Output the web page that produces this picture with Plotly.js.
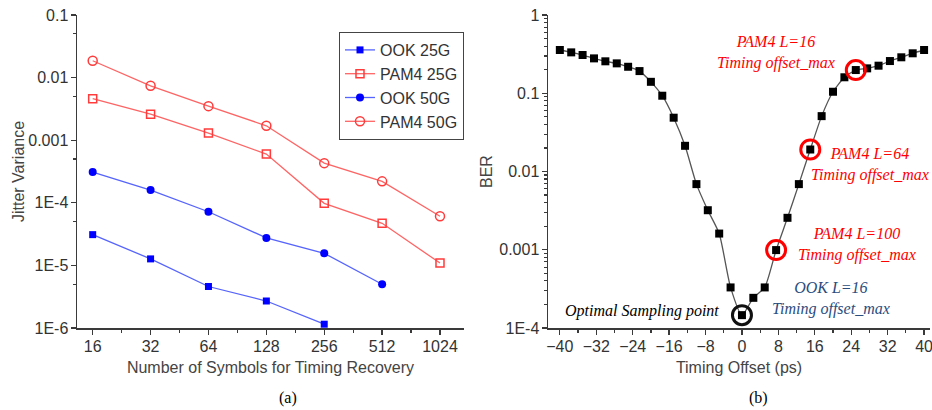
<!DOCTYPE html>
<html>
<head>
<meta charset="utf-8">
<script src="https://cdn.plot.ly/plotly-3.0.1.min.js"></script>
<style>
html,body{margin:0;padding:0;background:#fff;}
#chart{width:932px;height:410px;}
</style>
</head>
<body>
<div id="chart"></div>
<script>
// ---- Data: panel (a) ----
const symbols = [16, 32, 64, 128, 256, 512, 1024];
const symbolTickText = ['16', '32', '64', '128', '256', '512', '1024'];
const ook25 = [3.1e-5, 1.27e-5, 4.6e-6, 2.7e-6, 1.15e-6];
const pam4_25 = [4.6e-3, 2.6e-3, 1.3e-3, 6.0e-4, 9.8e-5, 4.7e-5, 1.09e-5];
const ook50 = [3.1e-4, 1.6e-4, 7.2e-5, 2.75e-5, 1.56e-5, 5.0e-6];
const pam4_50 = [1.86e-2, 7.4e-3, 3.5e-3, 1.7e-3, 4.3e-4, 2.2e-4, 6.1e-5];
const seriesNames = ['OOK 25G', 'PAM4 25G', 'OOK 50G', 'PAM4 50G'];
const jitterTickVals = [1e-6, 1e-5, 1e-4, 1e-3, 1e-2, 1e-1];
const jitterTickText = ['1E-6', '1E-5', '1E-4', '0.001', '0.01', '0.1'];

// ---- Data: panel (b) ----
const offsets = [-40, -37.5, -35, -32.5, -30, -27.5, -25, -22.5, -20, -17.5, -15, -12.5, -10, -7.5, -5, -2.5,
                 0, 2.5, 5, 7.5, 10, 12.5, 15, 17.5, 20, 22.5, 25, 27.5, 30, 32.5, 35, 37.5, 40];
const ber = [0.357, 0.333, 0.308, 0.279, 0.256, 0.241, 0.218, 0.192, 0.140, 0.093, 0.0487, 0.0213, 0.0069, 0.0032, 0.00161, 3.3e-4,
             1.46e-4, 2.43e-4, 3.3e-4, 9.9e-4, 2.56e-3, 6.9e-3, 0.0191, 0.051, 0.1045, 0.160, 0.198, 0.208, 0.225, 0.258, 0.288, 0.324, 0.357];
const berTickVals = [1e-4, 1e-3, 1e-2, 1e-1, 1];
const berTickText = ['1E-4', '0.001', '0.01', '0.1', '1'];
const offsetTicks = [-40, -32, -24, -16, -8, 0, 8, 16, 24, 32, 40];
const pam4Marked = [25, 15, 7.5];   // PAM4 L=16, L=64, L=100 timing offset max
const optimalPoint = [0];

// ---- derived ----
const symMinor = symbols.slice(0, -1).map((v, i) => Math.sqrt(v * symbols[i + 1]));
const jitMinor = [5e-6, 5e-5, 5e-4, 5e-3, 5e-2];
const berMinor = [];
for (let e = -4; e < 0; e++) for (let m = 2; m <= 9; m++) berMinor.push(m * Math.pow(10, e));
const offMinor = offsetTicks.slice(0, -1).map((v, i) => (v + offsetTicks[i + 1]) / 2);
const berAt = x => ber[offsets.indexOf(x)];

const SANS = 'Liberation Sans, Arial, sans-serif';
const SERIF = 'Liberation Serif, Times New Roman, serif';
const AX = '#3a3a3a';
const TXT = '#333333';
const BLUE = '#0000ff', BLUE_L = '#5563ff', RED = '#ff3b3b', RED_L = '#ff6464';

const traces = [
  {x: symbols.slice(0, ook25.length), y: ook25, name: seriesNames[0], mode: 'lines+markers', xaxis: 'x', yaxis: 'y',
   line: {color: BLUE_L, width: 1.3}, marker: {symbol: 'square', size: 7, color: BLUE}},
  {x: symbols.slice(0, pam4_25.length), y: pam4_25, name: seriesNames[1], mode: 'lines+markers', xaxis: 'x', yaxis: 'y',
   line: {color: RED_L, width: 1.3}, marker: {symbol: 'square-open', size: 8, color: RED, line: {width: 1.5}}},
  {x: symbols.slice(0, ook50.length), y: ook50, name: seriesNames[2], mode: 'lines+markers', xaxis: 'x', yaxis: 'y',
   line: {color: BLUE_L, width: 1.3}, marker: {symbol: 'circle', size: 8, color: BLUE}},
  {x: symbols.slice(0, pam4_50.length), y: pam4_50, name: seriesNames[3], mode: 'lines+markers', xaxis: 'x', yaxis: 'y',
   line: {color: RED_L, width: 1.3}, marker: {symbol: 'circle-open', size: 9, color: RED, line: {width: 1.5}}},
  {x: offsets, y: ber, name: 'BER', mode: 'lines+markers', xaxis: 'x2', yaxis: 'y2', showlegend: false,
   line: {color: '#555', width: 1.3, shape: 'spline', smoothing: 0.6}, marker: {symbol: 'square', size: 8, color: '#000'}},
  {x: pam4Marked, y: pam4Marked.map(berAt), mode: 'markers', xaxis: 'x2', yaxis: 'y2', showlegend: false, hoverinfo: 'skip',
   cliponaxis: false, marker: {symbol: 'circle-open', size: 19, color: '#ff0000', line: {width: 3}}},
  {x: optimalPoint, y: optimalPoint.map(berAt), mode: 'markers', xaxis: 'x2', yaxis: 'y2', showlegend: false, hoverinfo: 'skip',
   cliponaxis: false, marker: {symbol: 'circle-open', size: 19, color: '#111', line: {width: 3}}}
];

const W = 932, H = 410;
const px = v => v / W, py = v => 1 - v / H;
const dA = [px(77), px(464)], dB = [px(548), px(930)], dY = [py(328), py(15)];
const xRangeA = [Math.log10(16) - 0.0816, Math.log10(1024) + 0.1248];
const yRangeA = [-6, -1];
const xRangeB = [-42.6, 41.3];
const yRangeB = [-4, 0];

const tickFont = {family: SANS, size: 16, color: TXT};
const titleFont = {family: SANS, size: 16, color: '#444'};
const base = {showline: true, linecolor: AX, linewidth: 1.5, showgrid: false, zeroline: false,
              ticks: 'outside', ticklen: 5, tickwidth: 1.3, tickcolor: AX, tickfont: tickFont, ticklabeloverflow: 'allow'};
const mirror = {showline: true, linecolor: AX, linewidth: 1.5, showgrid: false, zeroline: false,
                ticks: 'inside', ticklen: 5, tickwidth: 1.3, tickcolor: AX, showticklabels: false};
const note = (x, y, text, color) => ({xref: 'paper', yref: 'paper', x: px(x), y: py(y), xanchor: 'center', yanchor: 'middle',
  text: text, showarrow: false, align: 'center', font: {family: SERIF, size: 16, color: color}});
const ytitle = (x, y, text) => ({xref: 'paper', yref: 'paper', x: px(x), y: py(y), xanchor: 'center', yanchor: 'middle',
  text: text, textangle: -90, showarrow: false, font: titleFont});

const layout = {
  width: W, height: H, margin: {l: 0, r: 0, t: 0, b: 0},
  paper_bgcolor: '#fff', plot_bgcolor: '#fff', showlegend: true,
  font: {family: SANS, color: TXT},
  legend: {x: px(464), xanchor: 'right', y: py(32), yanchor: 'top', bgcolor: '#fff',
           bordercolor: '#444', borderwidth: 1, font: {family: SANS, size: 16, color: '#333'},
           tracegroupgap: 0, itemwidth: 30},
  xaxis: Object.assign({}, base, {domain: dA, anchor: 'y', type: 'log', range: xRangeA,
           tickmode: 'array', tickvals: symbols, ticktext: symbolTickText, ticklabelstandoff: -2,
           minor: {tickmode: 'array', tickvals: symMinor, ticks: 'outside', ticklen: 3, tickcolor: AX, tickwidth: 1.2},
           title: {text: 'Number of Symbols for Timing Recovery', font: titleFont, standoff: 8}}),
  yaxis: Object.assign({}, base, {domain: dY, anchor: 'x', type: 'log', range: yRangeA,
           tickmode: 'array', tickvals: jitterTickVals, ticktext: jitterTickText, ticklabelstandoff: -1,
           minor: {tickmode: 'array', tickvals: jitMinor, ticks: 'outside', ticklen: 3, tickcolor: AX, tickwidth: 1.2}}),
  xaxis3: Object.assign({}, mirror, {overlaying: 'x', anchor: 'y', side: 'top', type: 'log', range: xRangeA,
           tickmode: 'array', tickvals: symbols,
           minor: {tickmode: 'array', tickvals: symMinor, ticks: 'inside', ticklen: 3, tickcolor: AX, tickwidth: 1.2}}),
  yaxis3: Object.assign({}, mirror, {overlaying: 'y', anchor: 'x', side: 'right', type: 'log', range: yRangeA,
           tickmode: 'array', tickvals: jitterTickVals,
           minor: {tickmode: 'array', tickvals: jitMinor, ticks: 'inside', ticklen: 3, tickcolor: AX, tickwidth: 1.2}}),
  xaxis2: Object.assign({}, base, {domain: dB, anchor: 'y2', range: xRangeB,
           tickmode: 'array', tickvals: offsetTicks, ticklabelstandoff: -2,
           minor: {tickmode: 'array', tickvals: offMinor, ticks: 'outside', ticklen: 3, tickcolor: AX, tickwidth: 1.2},
           title: {text: 'Timing Offset (ps)', font: titleFont, standoff: 8}}),
  yaxis2: Object.assign({}, base, {domain: dY, anchor: 'x2', type: 'log', range: yRangeB,
           tickmode: 'array', tickvals: berTickVals, ticktext: berTickText, ticklabelstandoff: -1,
           minor: {tickmode: 'array', tickvals: berMinor, ticks: 'outside', ticklen: 3, tickcolor: AX, tickwidth: 1.2}}),
  xaxis4: Object.assign({}, mirror, {overlaying: 'x2', anchor: 'y2', side: 'top', range: xRangeB,
           tickmode: 'array', tickvals: offsetTicks,
           minor: {tickmode: 'array', tickvals: offMinor, ticks: 'inside', ticklen: 3, tickcolor: AX, tickwidth: 1.2}}),
  yaxis4: Object.assign({}, mirror, {overlaying: 'y2', anchor: 'x2', side: 'right', type: 'log', range: yRangeB,
           tickmode: 'array', tickvals: berTickVals,
           minor: {tickmode: 'array', tickvals: berMinor, ticks: 'inside', ticklen: 3, tickcolor: AX, tickwidth: 1.2}}),
  annotations: [
    ytitle(19, 172, 'Jitter Variance'),
    ytitle(487, 171, 'BER'),
    note(776, 52, '<i>PAM4 L=16<br>Timing offset_max</i>', '#ff0000'),
    note(870, 164, '<i>PAM4 L=64<br>Timing offset_max</i>', '#ff0000'),
    note(857, 244, '<i>PAM4 L=100<br>Timing offset_max</i>', '#ff0000'),
    note(831, 298, '<i>OOK L=16<br>Timing offset_max</i>', '#2a4d80'),
    note(642, 311, '<i>Optimal Sampling point</i>', '#000'),
    note(288, 398, '(a)', '#000'),
    note(758, 398, '(b)', '#000')
  ]
};

Plotly.newPlot('chart', traces, layout, {staticPlot: true, displayModeBar: false});
</script>
</body>
</html>
